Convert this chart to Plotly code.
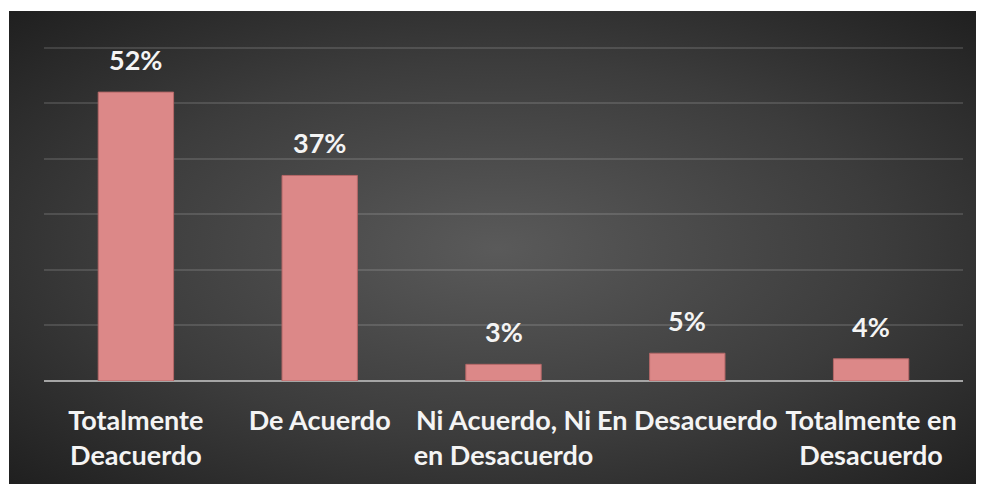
import base64
import plotly.graph_objects as go

categories = ["Totalmente<br>Deacuerdo", "De Acuerdo", "Ni Acuerdo, Ni<br>en Desacuerdo",
              "En Desacuerdo", "Totalmente en<br>Desacuerdo"]
values = [52, 37, 3, 5, 4]
labels = ["52%", "37%", "3%", "5%", "4%"]

# page body has an 8px default margin, so the figure is sized to fit inside it
W, H = 976, 476
ML, MR, MT, MB = 36, 21, 38, 103
pw, ph = W - ML - MR, H - MT - MB
px0, py0 = 1, 3  # dark panel top-left corner (figure pixels)

svg = ('<svg xmlns="http://www.w3.org/2000/svg" width="975" height="473" preserveAspectRatio="none">'
       '<defs><radialGradient id="g" cx="0.5" cy="0.5" r="0.72">'
       '<stop offset="0" stop-color="#5a5a5a"/><stop offset="0.55" stop-color="#3c3c3c"/>'
       '<stop offset="1" stop-color="#1e1e1e"/></radialGradient></defs>'
       '<rect width="975" height="473" fill="url(#g)"/></svg>')
src = "data:image/svg+xml;base64," + base64.b64encode(svg.encode()).decode()

fig = go.Figure()
fig.add_trace(go.Bar(
    x=categories, y=values,
    marker=dict(color="#dc8888", line=dict(color="#b56868", width=1)),
    width=0.41, hoverinfo="skip",
))

for c, v, t in zip(categories, values, labels):
    fig.add_annotation(x=c, y=v, text=t, showarrow=False, yanchor="bottom", yshift=14,
                       font=dict(family="Lato", size=27, color="#f4f4f4", weight="bold"))

fig.add_layout_image(dict(
    source=src, xref="paper", yref="paper",
    x=(px0 - ML) / pw, y=(H - MB - py0) / ph,
    sizex=(W - px0 + 2) / pw, sizey=(H - py0 + 2) / ph,
    xanchor="left", yanchor="top", sizing="stretch", layer="below",
))

# thin white border strips at the left and top of the figure
fig.add_shape(type="rect", xref="paper", yref="paper", layer="below",
              x0=-ML / pw, x1=(px0 - ML) / pw, y0=-MB / ph, y1=(H - MB) / ph,
              fillcolor="white", line_width=0)
fig.add_shape(type="rect", xref="paper", yref="paper", layer="below",
              x0=-ML / pw, x1=(W - ML) / pw, y0=(H - MB - py0) / ph, y1=(H - MB) / ph,
              fillcolor="white", line_width=0)

fig.update_layout(
    width=W, height=H,
    margin=dict(l=ML, r=MR, t=MT, b=MB, pad=0),
    paper_bgcolor="#202020", plot_bgcolor="rgba(0,0,0,0)",
    showlegend=False,
    xaxis=dict(showgrid=False, showline=False, ticks="",
               tickfont=dict(family="Lato", size=27, color="#f4f4f4", weight="bold"),
               ticklabelstandoff=21),
    yaxis=dict(range=[0, 60.3], tickvals=[10, 20, 30, 40, 50, 60], showticklabels=False,
               showgrid=True, gridcolor="rgba(255,255,255,0.13)", gridwidth=2,
               zeroline=True, zerolinecolor="#a5a5a5", zerolinewidth=2, showline=False),
)

fig.write_html("out.html", config={"displayModeBar": False})
